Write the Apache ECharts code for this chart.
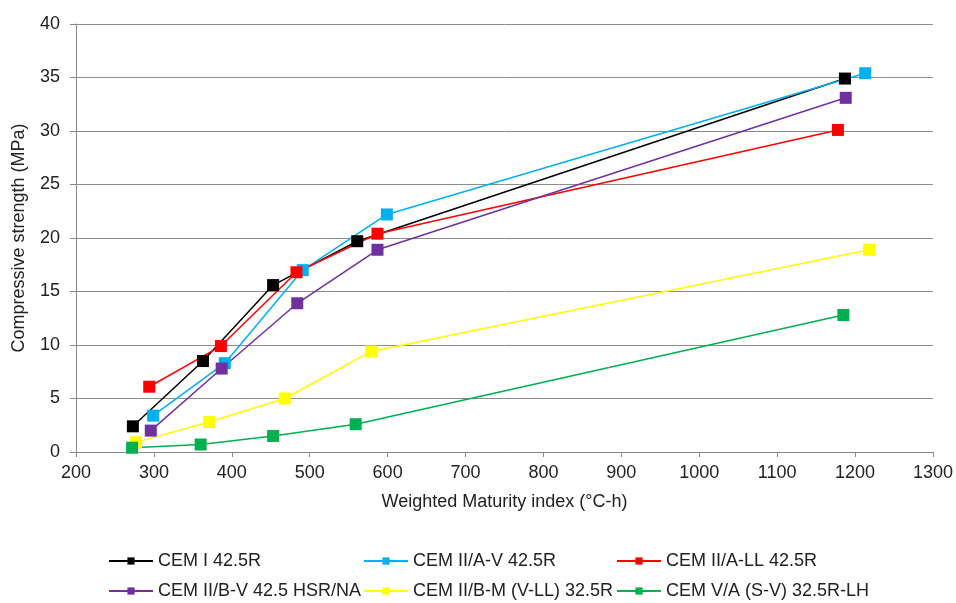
<!DOCTYPE html>
<html>
<head>
<meta charset="utf-8">
<script src="https://cdn.jsdelivr.net/npm/echarts@6/dist/echarts.min.js"></script>
<style>html,body{margin:0;padding:0;background:#fff}#c{width:956px;height:603px}</style>
</head>
<body>
<div id="c"></div>
<script>
var seriesNames = ['CEM I 42.5R', 'CEM II/A-V 42.5R', 'CEM II/A-LL 42.5R', 'CEM II/B-V 42.5 HSR/NA', 'CEM II/B-M (V-LL) 32.5R', 'CEM V/A (S-V) 32.5R-LH'];
var cemI = [[273, 2.4], [363, 8.5], [453, 15.6], [561, 19.7], [1187, 34.9]];
var cemIIAV = [[299, 3.4], [391, 8.3], [491, 17.0], [599, 22.2], [1213, 35.4]];
var cemIIALL = [[294, 6.1], [386, 9.9], [483, 16.8], [587, 20.4], [1178, 30.1]];
var cemIIBV = [[296, 2.0], [387, 7.8], [484, 13.9], [587, 18.9], [1188, 33.1]];
var cemIIBM = [[277, 0.9], [371, 2.8], [468, 5.0], [579, 9.4], [1218, 18.9]];
var cemVA = [[272, 0.4], [360, 0.7], [453, 1.5], [559, 2.6], [1185, 12.8]];
var seriesData = [cemI, cemIIAV, cemIIALL, cemIIBV, cemIIBM, cemVA];
var colors = ['#000000', '#00B0F0', '#FF0000', '#7030A0', '#FFFF00', '#00B050'];
var xTitle = 'Weighted Maturity index (°C-h)';
var yTitle = 'Compressive strength (MPa)';

var font = '"Liberation Sans", Arial, sans-serif';
var chart = echarts.init(document.getElementById('c'), null, {renderer: 'canvas'});

var legendLefts = [103, 358, 611];
var legendTops = [547, 577];
function legendItem(i) {
  var col = i % 3, row = Math.floor(i / 3);
  return {
    left: legendLefts[col], top: legendTops[row],
    itemWidth: 44, itemHeight: 9, data: [seriesNames[i]],
    textStyle: {fontFamily: font, fontSize: 18, color: '#222'},
    selectedMode: false
  };
}

var option = {
  animation: false,
  backgroundColor: '#fff',
  color: colors,
  grid: {left: 76, right: 21, top: 24, bottom: 151},
  legend: seriesNames.map(function (n, i) { return legendItem(i); }),
  xAxis: {
    type: 'value', min: 200, max: 1300, interval: 100,
    name: xTitle, nameLocation: 'middle', nameGap: 41,
    nameTextStyle: {fontFamily: font, fontSize: 18, color: '#222'},
    axisLine: {show: true, lineStyle: {color: '#888', width: 1}},
    axisTick: {show: true, length: 5, lineStyle: {color: '#888'}},
    axisLabel: {fontFamily: font, fontSize: 18, color: '#222', margin: 12,
      formatter: function (v) { return String(v); }},
    splitLine: {show: false}
  },
  yAxis: {
    type: 'value', min: 0, max: 40, interval: 5,
    name: yTitle, nameLocation: 'middle', nameGap: 48, nameRotate: 90,
    nameTextStyle: {fontFamily: font, fontSize: 18, color: '#222'},
    axisLine: {show: true, lineStyle: {color: '#888', width: 1}},
    axisTick: {show: true, length: 6, lineStyle: {color: '#888'}},
    axisLabel: {fontFamily: font, fontSize: 18, color: '#222', margin: 16},
    splitLine: {show: true, lineStyle: {color: '#8c8c8c', width: 1}}
  },
  series: seriesNames.map(function (n, i) {
    return {
      name: n, type: 'line', data: seriesData[i],
      symbol: 'rect', symbolSize: 12,
      lineStyle: {color: colors[i], width: 1.5},
      itemStyle: {color: colors[i], borderWidth: 0}
    };
  })
};
chart.setOption(option);
</script>
</body>
</html>
